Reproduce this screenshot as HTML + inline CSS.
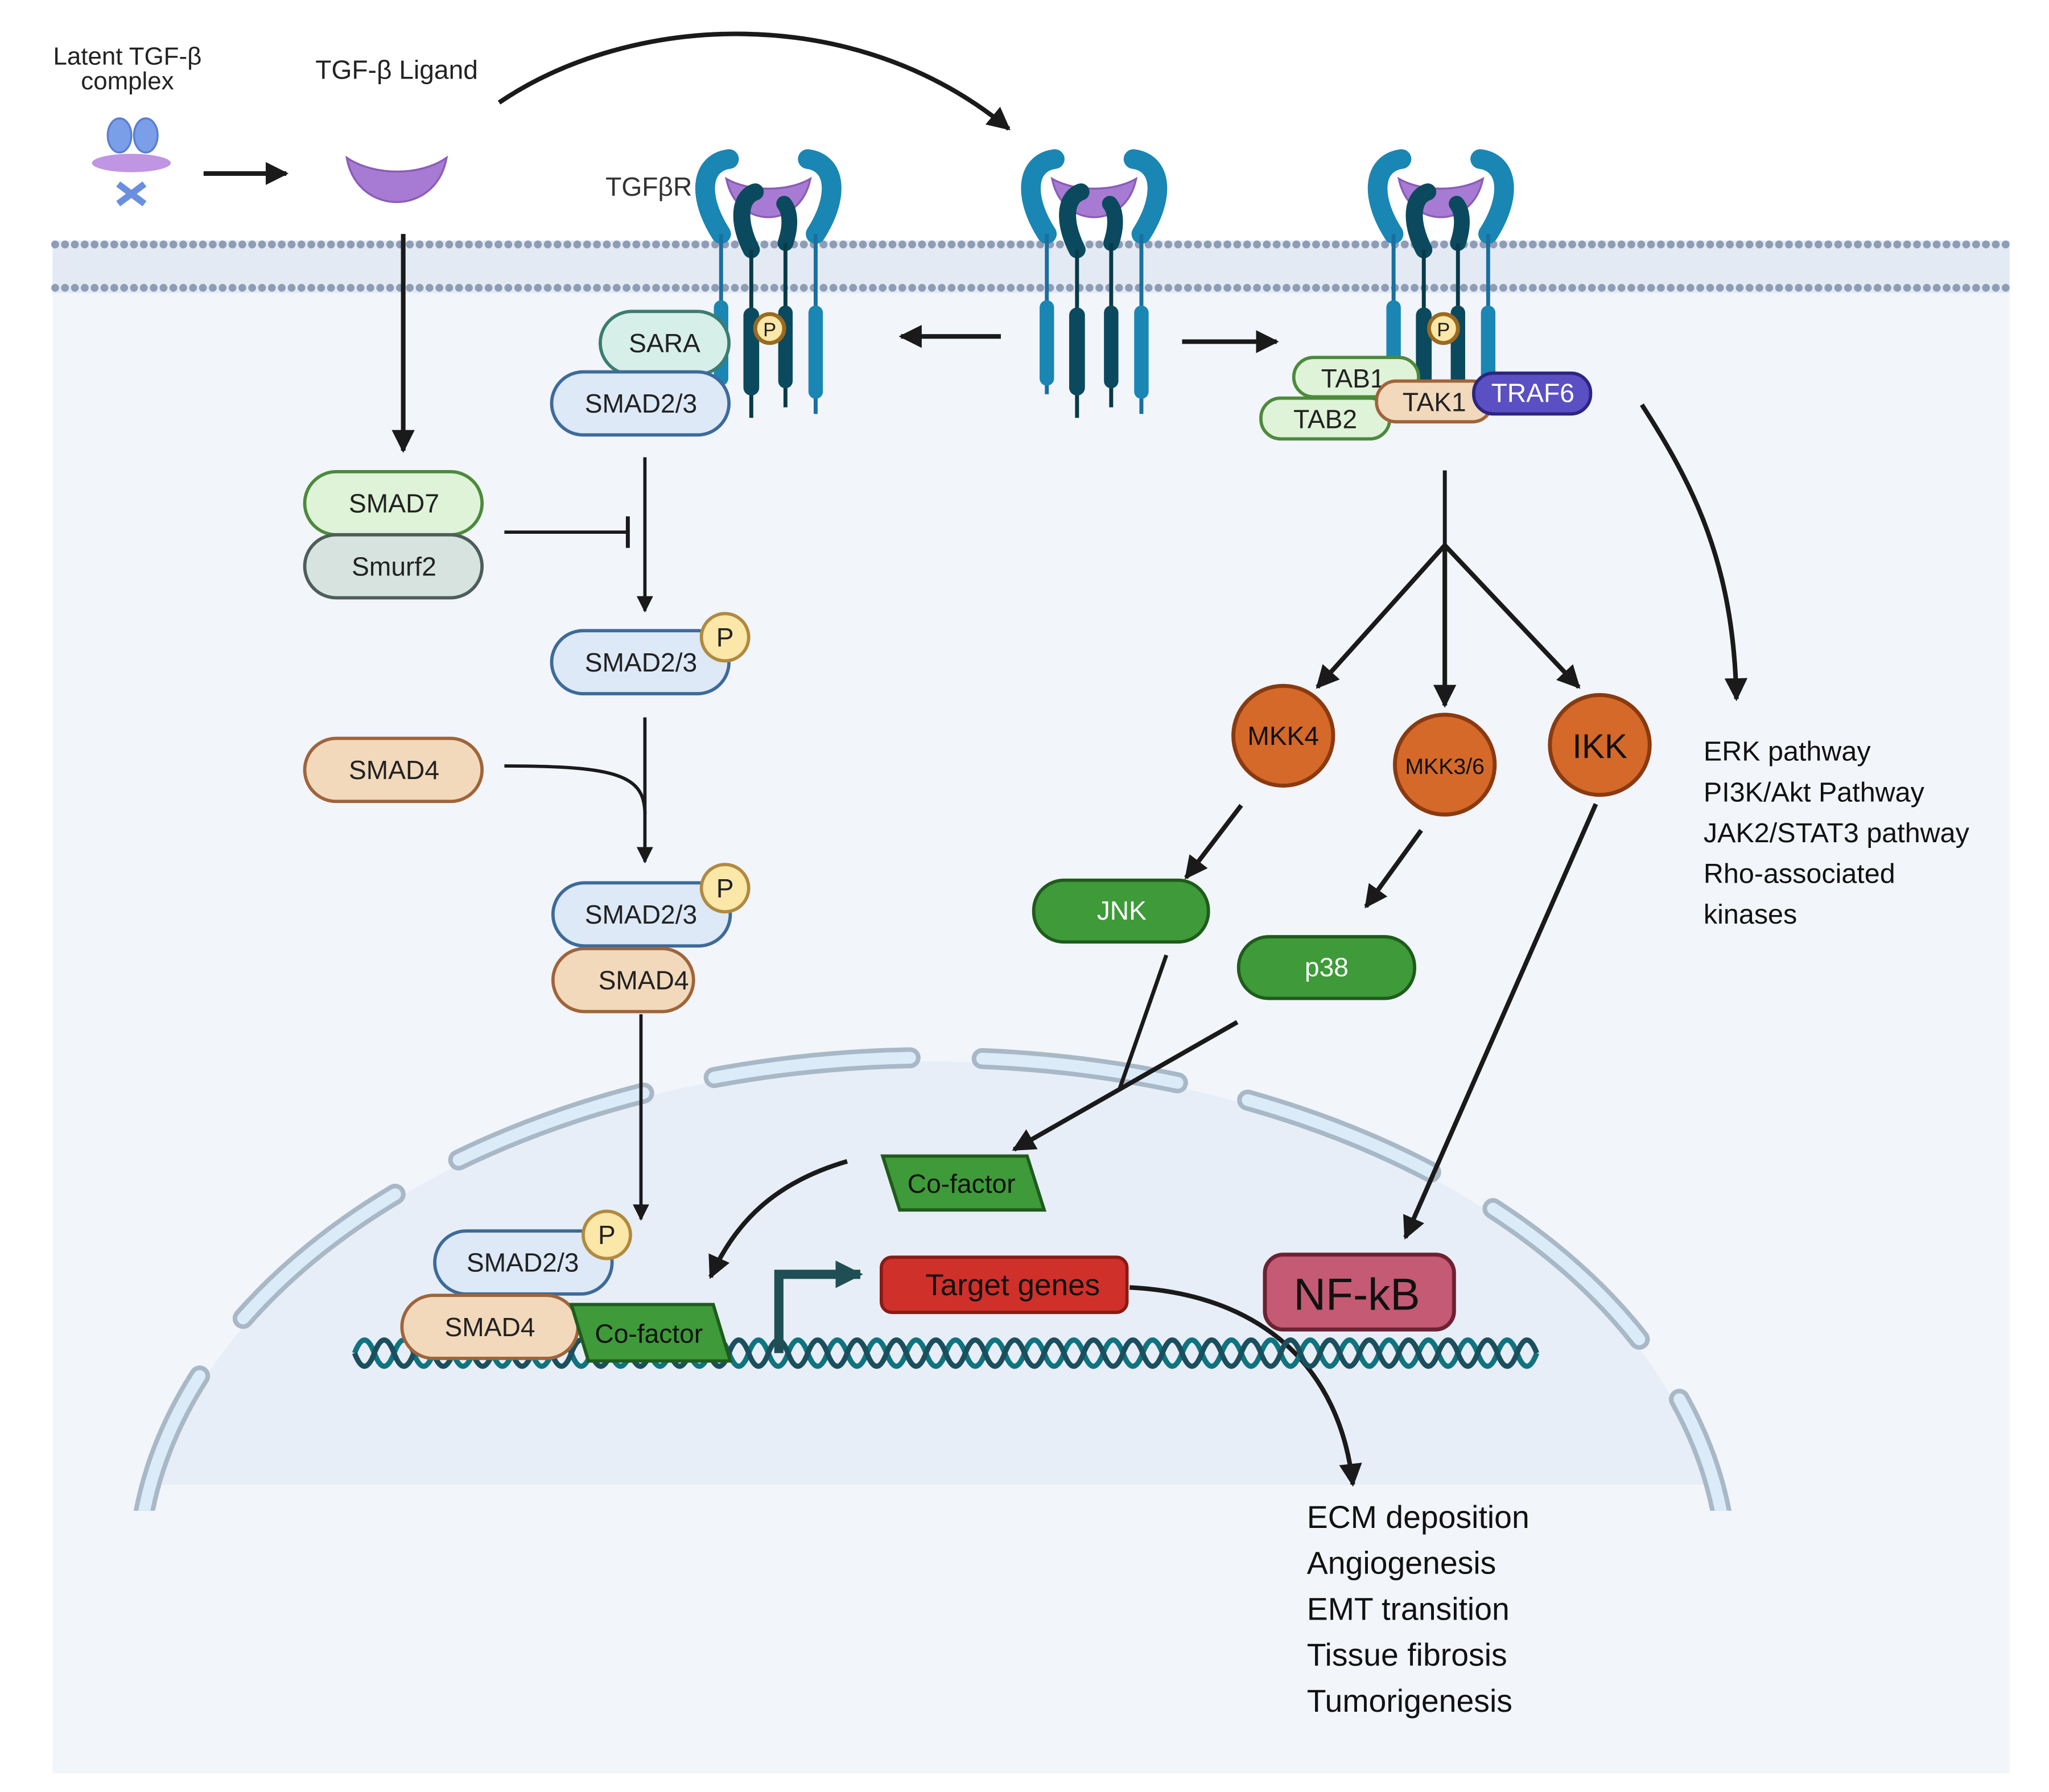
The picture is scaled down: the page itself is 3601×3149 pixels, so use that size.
<!DOCTYPE html>
<html><head><meta charset="utf-8"><style>
html,body{margin:0;padding:0;background:#fff;overflow:hidden;width:3601px;height:3149px}
svg{display:block}
text{font-family:"Liberation Sans",sans-serif}
</style></head><body>
<svg width="3601" height="3149" viewBox="0 0 1560 1364" xmlns="http://www.w3.org/2000/svg">
<defs>
<marker id="ah" viewBox="0 0 10 10" refX="9" refY="5" markerWidth="5" markerHeight="5" orient="auto"><path d="M0 0L10 5L0 10Z" fill="#1a1a1a"/></marker>
<marker id="ah2" viewBox="0 0 10 10" refX="9" refY="5" markerWidth="3" markerHeight="3" orient="auto"><path d="M0 0L10 5L0 10Z" fill="#1f4f55"/></marker>
<clipPath id="nc"><rect x="0" y="0" width="1560" height="1130"/></clipPath>
<clipPath id="nc2"><rect x="0" y="0" width="1560" height="1150"/></clipPath>
<g id="rec">
 <path d="M-36 178 C-54 150,-52 124,-30 121" stroke="#1a86b3" stroke-width="15" fill="none" stroke-linecap="round"/>
 <path d="M36 178 C54 150,52 124,30 121" stroke="#1a86b3" stroke-width="15" fill="none" stroke-linecap="round"/>
 <path d="M-32 136 C-24 175,24 175,32 136 C15 146,-15 146,-32 136Z" fill="#a77bd3" stroke="#8a5cb8" stroke-width="1.5"/>
 <path d="M-13 190 C-24 168,-22 150,-10 146" stroke="#0b4a5e" stroke-width="13" fill="none" stroke-linecap="round"/>
 <path d="M13 185 C18 170,16 160,12 155" stroke="#0b4a5e" stroke-width="12" fill="none" stroke-linecap="round"/>
 <line x1="-36" y1="178" x2="-36" y2="300" stroke="#1a6fa0" stroke-width="3"/>
 <line x1="36" y1="178" x2="36" y2="315" stroke="#1a6fa0" stroke-width="3"/>
 <line x1="-13" y1="190" x2="-13" y2="318" stroke="#083a48" stroke-width="3"/>
 <line x1="13" y1="185" x2="13" y2="310" stroke="#083a48" stroke-width="3"/>
 <line x1="-36" y1="234" x2="-36" y2="288" stroke="#1a86b3" stroke-width="11" stroke-linecap="round"/>
 <line x1="36" y1="238" x2="36" y2="298" stroke="#1a86b3" stroke-width="11" stroke-linecap="round"/>
 <line x1="-13" y1="240" x2="-13" y2="295" stroke="#0b4a5e" stroke-width="12" stroke-linecap="round"/>
 <line x1="13" y1="238" x2="13" y2="290" stroke="#0b4a5e" stroke-width="11" stroke-linecap="round"/>
</g>
</defs>
<rect width="1560" height="1364" fill="#fff"/>
<rect x="40" y="200" width="1490" height="1150" fill="#f2f5fa"/>
<!-- nucleus -->
<g clip-path="url(#nc)">
<ellipse cx="710" cy="1200" rx="600" ry="392" fill="#e7eef7"/>
</g>
<g clip-path="url(#nc2)">
<ellipse cx="710" cy="1200" rx="605" ry="395" fill="none" stroke="#a9b8c6" stroke-width="16" stroke-dasharray="150 55" stroke-dashoffset="40" stroke-linecap="round"/>
<ellipse cx="710" cy="1200" rx="605" ry="395" fill="none" stroke="#dcebf8" stroke-width="9" stroke-dasharray="150 55" stroke-dashoffset="40" stroke-linecap="round"/>
</g>
<!-- membrane -->
<rect x="40" y="183" width="1490" height="40" fill="#e3eaf4"/>
<line x1="42" y1="186" x2="1530" y2="186" stroke="#8e9db5" stroke-width="6" stroke-dasharray="0 7.5" stroke-linecap="round"/>
<line x1="42" y1="219" x2="1530" y2="219" stroke="#8e9db5" stroke-width="6" stroke-dasharray="0 7.5" stroke-linecap="round"/>
<!-- receptors -->
<use href="#rec" x="585" y="0"/>
<use href="#rec" x="833" y="0"/>
<use href="#rec" x="1097" y="0"/>
<!-- latent complex & ligand -->
<g fill="#7a9ee8" stroke="#5a7fcf" stroke-width="1.5">
<ellipse cx="91" cy="103" rx="9" ry="13"/><ellipse cx="111" cy="103" rx="9" ry="13"/>
<path d="M90 140 L110 155 M110 140 L90 155" stroke="#6b8fe0" stroke-width="5"/>
</g>
<ellipse cx="100" cy="124" rx="30" ry="7" fill="#b98ae0" opacity="0.9"/>
<path d="M264 120 C272 165,332 165,340 120 C320 134,285 134,264 120Z" fill="#a77bd3" stroke="#8a5cb8" stroke-width="1.5"/>
<text x="97" y="49" font-size="19" text-anchor="middle" fill="#222">Latent TGF-β</text>
<text x="97" y="68" font-size="19" text-anchor="middle" fill="#222">complex</text>
<text x="302" y="60" font-size="20" text-anchor="middle" fill="#222">TGF-β Ligand</text>
<text x="461" y="149" font-size="20" fill="#333">TGFβR</text>
<!-- arrows -->
<g stroke="#1a1a1a" stroke-width="3.5" fill="none" marker-end="url(#ah)">
<line x1="155" y1="132" x2="218" y2="132"/>
<path d="M380 78 C480 10,650 0,768 98"/>
<line x1="307" y1="178" x2="307" y2="343"/>
<line x1="762" y1="256" x2="686" y2="256"/>
<line x1="900" y1="260" x2="972" y2="260"/>
<line x1="491" y1="348" x2="491" y2="465" stroke-width="2.5"/>
<line x1="491" y1="546" x2="491" y2="656" stroke-width="2.5"/>
<line x1="488" y1="772" x2="488" y2="928" stroke-width="2.5"/>
<line x1="1100" y1="415" x2="1003" y2="523"/>
<line x1="1100" y1="415" x2="1100" y2="537"/>
<line x1="1100" y1="415" x2="1202" y2="523"/>
<line x1="945" y1="613" x2="903" y2="668"/>
<line x1="1082" y1="632" x2="1040" y2="690"/>
<line x1="1215" y1="612" x2="1070" y2="942"/>
<line x1="942" y1="778" x2="772" y2="875"/>
<path d="M645 884 C590 900,560 930,541 972"/>
<path d="M1250 308 C1290 370,1320 430,1322 532"/>
<path d="M860 980 C960 985,1020 1040,1030 1130"/>
</g>
<g stroke="#1a1a1a" stroke-width="3" fill="none">
<line x1="1100" y1="358" x2="1100" y2="416"/>
<line x1="888" y1="727" x2="852" y2="830"/>
<line x1="384" y1="405" x2="478" y2="405" stroke-width="2.5"/>
<line x1="478" y1="393" x2="478" y2="417" stroke-width="3"/>
<path d="M384 583 C470 583,491 590,491 620" stroke-width="2.5"/>
</g>
<!-- DNA -->
<path d="M270 1030 q7.5 -20 15 0 t15 0 t15 0 t15 0 t15 0 t15 0 t15 0 t15 0 t15 0 t15 0 t15 0 t15 0 t15 0 t15 0 t15 0 t15 0 t15 0 t15 0 t15 0 t15 0 t15 0 t15 0 t15 0 t15 0 t15 0 t15 0 t15 0 t15 0 t15 0 t15 0 t15 0 t15 0 t15 0 t15 0 t15 0 t15 0 t15 0 t15 0 t15 0 t15 0 t15 0 t15 0 t15 0 t15 0 t15 0 t15 0 t15 0 t15 0 t15 0 t15 0 t15 0 t15 0 t15 0 t15 0 t15 0 t15 0 t15 0 t15 0 t15 0 t15 0" fill="none" stroke="#0f7480" stroke-width="4"/>
<path d="M270 1030 q7.5 20 15 0 t15 0 t15 0 t15 0 t15 0 t15 0 t15 0 t15 0 t15 0 t15 0 t15 0 t15 0 t15 0 t15 0 t15 0 t15 0 t15 0 t15 0 t15 0 t15 0 t15 0 t15 0 t15 0 t15 0 t15 0 t15 0 t15 0 t15 0 t15 0 t15 0 t15 0 t15 0 t15 0 t15 0 t15 0 t15 0 t15 0 t15 0 t15 0 t15 0 t15 0 t15 0 t15 0 t15 0 t15 0 t15 0 t15 0 t15 0 t15 0 t15 0 t15 0 t15 0 t15 0 t15 0 t15 0 t15 0 t15 0 t15 0 t15 0 t15 0" fill="none" stroke="#1b4f5e" stroke-width="4"/>
<path d="M593 1030 L593 970 L655 970" fill="none" stroke="#1f4f55" stroke-width="7" marker-end="url(#ah2)"/>
<!-- nodes -->
<g stroke-width="2.5" font-size="20" text-anchor="middle">
<rect x="457" y="237" width="98" height="48" rx="24" fill="#d7efe9" stroke="#3b7d70"/>
<text x="506" y="268" fill="#222" stroke="none">SARA</text>
<rect x="420" y="283" width="135" height="48" rx="24" fill="#dde9f7" stroke="#3d6a9a"/>
<text x="488" y="314" fill="#222" stroke="none">SMAD2/3</text>
<circle cx="586" cy="250" r="11" fill="#fbe7a8" stroke="#9a6a20" stroke-width="3"/>
<text x="586" y="256" font-size="15" fill="#222" stroke="none">P</text>
<circle cx="1099" cy="250" r="11" fill="#fbe7a8" stroke="#9a6a20" stroke-width="3"/>
<text x="1099" y="256" font-size="15" fill="#222" stroke="none">P</text>
<rect x="232" y="359" width="135" height="48" rx="24" fill="#dff3d8" stroke="#4c8a3c"/>
<text x="300" y="390" fill="#222" stroke="none">SMAD7</text>
<rect x="232" y="407" width="135" height="48" rx="24" fill="#d7e3df" stroke="#4d5e5a"/>
<text x="300" y="438" fill="#222" stroke="none">Smurf2</text>
<rect x="420" y="480" width="135" height="48" rx="24" fill="#dde9f7" stroke="#3d6a9a"/>
<text x="488" y="511" fill="#222" stroke="none">SMAD2/3</text>
<circle cx="552" cy="485" r="18" fill="#fbe7a8" stroke="#b08a40"/>
<text x="552" y="492" fill="#222" stroke="none">P</text>
<rect x="232" y="562" width="135" height="48" rx="24" fill="#f2d9bc" stroke="#a0643a"/>
<text x="300" y="593" fill="#222" stroke="none">SMAD4</text>
<rect x="421" y="672" width="135" height="48" rx="24" fill="#dde9f7" stroke="#3d6a9a"/>
<text x="488" y="703" fill="#222" stroke="none">SMAD2/3</text>
<rect x="421" y="722" width="107" height="48" rx="24" fill="#f2d9bc" stroke="#a0643a"/>
<text x="490" y="753" fill="#222" stroke="none">SMAD4</text>
<circle cx="552" cy="676" r="18" fill="#fbe7a8" stroke="#b08a40"/>
<text x="552" y="683" fill="#222" stroke="none">P</text>
<rect x="331" y="937" width="135" height="48" rx="24" fill="#dde9f7" stroke="#3d6a9a"/>
<text x="398" y="968" fill="#222" stroke="none">SMAD2/3</text>
<circle cx="462" cy="940" r="18" fill="#fbe7a8" stroke="#b08a40"/>
<text x="462" y="947" fill="#222" stroke="none">P</text>
<rect x="306" y="986" width="134" height="48" rx="24" fill="#f2d9bc" stroke="#a0643a"/>
<text x="373" y="1017" fill="#222" stroke="none">SMAD4</text>
<path d="M435 993 L543 993 L556 1036 L448 1036Z" fill="#3f9a3a" stroke="#1f5c1c"/>
<text x="494" y="1022" fill="#111" stroke="none">Co-factor</text>
<path d="M672 880 L782 880 L795 921 L685 921Z" fill="#3f9a3a" stroke="#1f5c1c"/>
<text x="732" y="908" fill="#111" stroke="none">Co-factor</text>
<rect x="671" y="957" width="187" height="42" rx="8" fill="#d0302a" stroke="#8a1a15"/>
<text x="771" y="986" font-size="23" fill="#111" stroke="none">Target genes</text>
<rect x="963" y="955" width="144" height="57" rx="14" fill="#c45a73" stroke="#6d2233" stroke-width="3"/>
<text x="1033" y="997" font-size="34" fill="#111" stroke="none">NF-kB</text>
<rect x="985" y="272" width="95" height="30" rx="15" fill="#dff3d8" stroke="#4c8a3c"/>
<text x="1030" y="295" fill="#222" stroke="none">TAB1</text>
<rect x="960" y="303" width="98" height="31" rx="15" fill="#dff3d8" stroke="#4c8a3c"/>
<text x="1009" y="326" fill="#222" stroke="none">TAB2</text>
<rect x="1048" y="290" width="88" height="31" rx="15" fill="#f2d9bc" stroke="#a0643a"/>
<text x="1092" y="313" fill="#222" stroke="none">TAK1</text>
<rect x="1122" y="284" width="89" height="31" rx="15" fill="#5b4fc4" stroke="#2e2580"/>
<text x="1167" y="306" fill="#fff" stroke="none">TRAF6</text>
<circle cx="977" cy="560" r="38" fill="#d4692a" stroke="#8a3a10" stroke-width="3"/>
<text x="977" y="567" fill="#111" stroke="none">MKK4</text>
<circle cx="1100" cy="582" r="38" fill="#d4692a" stroke="#8a3a10" stroke-width="3"/>
<text x="1100" y="589" font-size="17" fill="#111" stroke="none">MKK3/6</text>
<circle cx="1218" cy="567" r="38" fill="#d4692a" stroke="#8a3a10" stroke-width="3"/>
<text x="1218" y="577" font-size="26" fill="#111" stroke="none">IKK</text>
<rect x="787" y="670" width="133" height="47" rx="23" fill="#3f9a3a" stroke="#1f5c1c"/>
<text x="854" y="700" fill="#fff" stroke="none">JNK</text>
<rect x="943" y="713" width="134" height="47" rx="23" fill="#3f9a3a" stroke="#1f5c1c"/>
<text x="1010" y="743" fill="#fff" stroke="none">p38</text>
</g>
<g font-size="21" fill="#111">
<text x="1297" y="579">ERK pathway</text>
<text x="1297" y="610">PI3K/Akt Pathway</text>
<text x="1297" y="641">JAK2/STAT3 pathway</text>
<text x="1297" y="672">Rho-associated</text>
<text x="1297" y="703">kinases</text>
</g>
<g font-size="24" fill="#111">
<text x="995" y="1163">ECM deposition</text>
<text x="995" y="1198">Angiogenesis</text>
<text x="995" y="1233">EMT transition</text>
<text x="995" y="1268">Tissue fibrosis</text>
<text x="995" y="1303">Tumorigenesis</text>
</g>
</svg>
</body></html>
